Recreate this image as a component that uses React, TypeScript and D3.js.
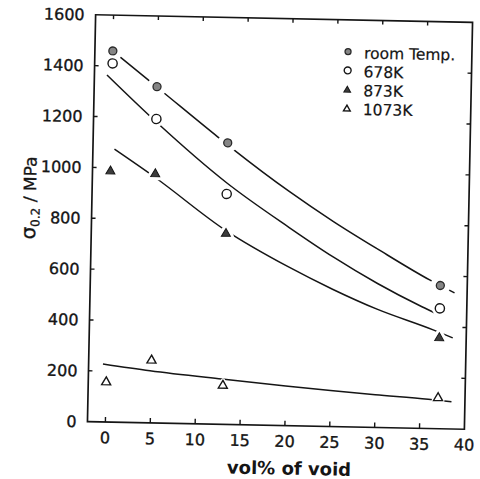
import React from 'react';
import * as d3 from 'd3';

const W = 480;
const H = 479;

// Measured 0.2% proof stress against void content
const voidPct = [0, 5, 13, 37];
const roomTemp = [1459, 1322, 1107, 563];
const k678 = [1410, 1195, 906, 473];
const k873 = [991, 984, 755, 362];
const k1073 = [162, 251, 158, 126];

// Trend lines through each series, as (vol%, MPa) samples
const fitRoomX = [0, 4, 5.8, 11.9, 13.6, 20, 25, 30, 35.8, 38.6];
const fitRoomY = [1459, 1348, 1298, 1129, 1083, 920, 805, 700, 584, 535];
const fit678X = [-0.6, 5, 13, 20, 25, 30, 35, 37];
const fit678Y = [1364, 1183, 949, 780, 667, 566, 478, 446];
const fit873X = [0.4, 5, 13, 20, 25, 30, 36.3, 38.5];
const fit873Y = [1073, 965, 762, 625, 540, 465, 388, 358];
const fit1073X = [-0.4, 4.85, 12.86, 20, 25, 30, 35.9, 38.5];
const fit1073Y = [228, 205, 178, 156, 142, 129, 115, 107];

const xTicks = [0, 5, 10, 15, 20, 25, 30, 35, 40];
const yTicks = [0, 200, 400, 600, 800, 1000, 1200, 1400, 1600];
const legendLabels = ['room Temp.', '678K', '873K', '1073K'];

type Kind = 'filledCircle' | 'openCircle' | 'filledTri' | 'openTri';

const series: { label: string; kind: Kind; values: number[]; fx: number[]; fy: number[]; halo: number }[] = [
  { label: legendLabels[0], kind: 'filledCircle', values: roomTemp, fx: fitRoomX, fy: fitRoomY, halo: 10 },
  { label: legendLabels[1], kind: 'openCircle', values: k678, fx: fit678X, fy: fit678Y, halo: 8 },
  { label: legendLabels[2], kind: 'filledTri', values: k873, fx: fit873X, fy: fit873Y, halo: 7 },
  { label: legendLabels[3], kind: 'openTri', values: k1073, fx: fit1073X, fy: fit1073Y, halo: 4 },
];

const FONT = '"DejaVu Sans", sans-serif';
const INK = '#151515';

const x = d3.scaleLinear().domain([-2, 40]).range([91.5, 468.5]);
const y = d3.scaleLinear().domain([0, 1600]).range([425.5, 18.5]);

function triPath(w: number, h: number) {
  return `M0,${-h / 2}L${w / 2},${h / 2}L${-w / 2},${h / 2}Z`;
}

function Marker({ kind, cx, cy, scale = 1, halo = 0 }: { kind: Kind; cx: number; cy: number; scale?: number; halo?: number }) {
  const t = `translate(${cx},${cy})`;
  if (kind === 'filledCircle' || kind === 'openCircle') {
    const r = (kind === 'filledCircle' ? 4 : 4.6) * scale;
    return (
      <g transform={t}>
        {halo > 0 && <circle r={halo} fill="#fff" />}
        <circle
          r={r}
          fill={kind === 'filledCircle' ? '#858585' : '#fff'}
          stroke={kind === 'filledCircle' ? '#2a2a2a' : INK}
          strokeWidth={kind === 'filledCircle' ? 1.3 : 1.4}
        />
      </g>
    );
  }
  const d = triPath(9 * scale, 7.8 * scale);
  return (
    <g transform={t}>
      {halo > 0 && <path d={d} fill="#fff" stroke="#fff" strokeWidth={halo} strokeLinejoin="round" />}
      <path
        d={d}
        fill={kind === 'filledTri' ? '#3c3c3c' : '#fff'}
        stroke={INK}
        strokeWidth={kind === 'filledTri' ? 1 : 1.4}
        strokeLinejoin="miter"
      />
    </g>
  );
}

export default function App() {
  const line = d3
    .line<[number, number]>()
    .x((d) => x(d[0]))
    .y((d) => y(d[1]))
    .curve(d3.curveMonotoneX);

  const x0 = x.range()[0];
  const x1 = x.range()[1];
  const y0 = y.range()[0];
  const y1 = y.range()[1];
  const xTickInner = xTicks.filter((v) => v < 40);
  const yTickInner = yTicks.filter((v) => v > 0 && v < 1600);

  return (
    <svg
      width={W}
      height={H}
      viewBox={`0 0 ${W} ${H}`}
      style={{ position: 'absolute', left: 0, top: 0, background: '#fff' }}
    >
      <rect width={W} height={H} fill="#fff" />
      <g transform="rotate(1.15, 280, 222)">
        {/* trend lines */}
        {series.map((s) => (
          <path
            key={s.label + '-fit'}
            d={line(s.fx.map((v, i) => [v, s.fy[i]] as [number, number])) || ''}
            fill="none"
            stroke={INK}
            strokeWidth={1.5}
          />
        ))}

        {/* data points */}
        {series.map((s) =>
          s.values.map((v, i) => (
            <Marker key={s.label + i} kind={s.kind} cx={x(voidPct[i])} cy={y(v)} halo={s.halo} />
          ))
        )}

        {/* frame */}
        <rect x={x0} y={y1} width={x1 - x0} height={y0 - y1} fill="none" stroke={INK} strokeWidth={1.7} />

        {/* ticks, all pointing inward */}
        {xTickInner.map((v) => (
          <g key={'xt' + v}>
            <line x1={x(v)} x2={x(v)} y1={y0} y2={y0 - 5} stroke={INK} strokeWidth={1.4} />
            <line x1={x(v)} x2={x(v)} y1={y1} y2={y1 + 4} stroke={INK} strokeWidth={1.4} />
          </g>
        ))}
        {yTickInner.map((v) => (
          <g key={'yt' + v}>
            <line x1={x0} x2={x0 + 4} y1={y(v)} y2={y(v)} stroke={INK} strokeWidth={1.4} />
            <line x1={x1} x2={x1 - 4} y1={y(v)} y2={y(v)} stroke={INK} strokeWidth={1.4} />
          </g>
        ))}

        {/* tick labels */}
        {yTicks.map((v) => (
          <text
            key={'yl' + v}
            x={80.5}
            y={y(v)}
            dy="0.36em"
            textAnchor="end"
            fontFamily={FONT}
            fontSize={16}
            fill={INK}
            stroke={INK}
            strokeWidth={0.35}
          >
            {v}
          </text>
        ))}
        {xTicks.map((v) => (
          <text
            key={'xl' + v}
            x={x(v)}
            y={446.8}
            textAnchor="middle"
            fontFamily={FONT}
            fontSize={16}
            fill={INK}
            stroke={INK}
            strokeWidth={0.35}
          >
            {v}
          </text>
        ))}

        {/* axis titles */}
        <text
          x={294}
          y={474.5}
          textAnchor="middle"
          fontFamily={FONT}
          fontSize={18}
          fontWeight="bold"
          fill={INK}
        >
          vol% of void
        </text>
        <text
          transform="translate(35.5,203) rotate(-90)"
          textAnchor="middle"
          fontFamily={FONT}
          fontSize={17}
          fill={INK}
          stroke={INK}
          strokeWidth={0.3}
        >
          <tspan fontSize={20}>σ</tspan>
          <tspan fontSize={12} dy={4}>0.2</tspan>
          <tspan dy={-4}>{'  / MPa'}</tspan>
        </text>

        {/* legend */}
        {series.map((s, i) => {
          const ly = 50.3 + i * 18.8;
          return (
            <g key={'lg' + i}>
              <Marker kind={s.kind} cx={344.6} cy={ly} scale={0.75} />
              <text x={360.6} y={ly + 6.6} fontFamily={FONT} fontSize={15.5} fill={INK} stroke={INK} strokeWidth={0.2}>
                {s.label}
              </text>
            </g>
          );
        })}
      </g>
    </svg>
  );
}
